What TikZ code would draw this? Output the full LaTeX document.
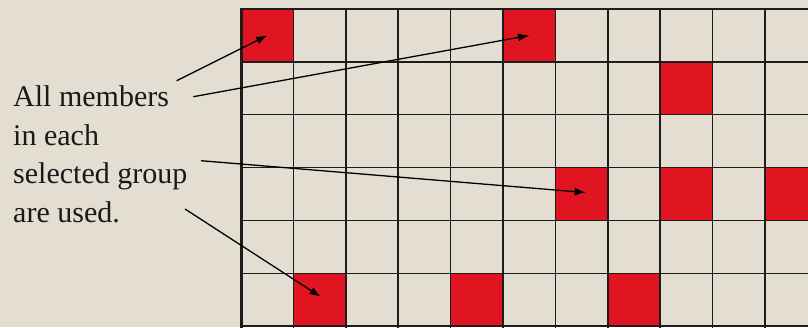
\documentclass[tikz,border=0pt]{standalone}
\usepackage{fontspec}
\setmainfont{Liberation Serif}
\usetikzlibrary{arrows.meta}
\definecolor{bg}{RGB}{228,221,209}
\definecolor{cellred}{RGB}{225,20,34}
\definecolor{gridcol}{RGB}{30,28,26}
\begin{document}
\begin{tikzpicture}[x=1pt,y=-1pt,
  redcell/.style={fill=cellred, draw=none, minimum width=52.4pt, minimum height=52.86pt, inner sep=0pt, outer sep=0pt, anchor=north west},
  gridline/.style={line width=1.5pt, draw=gridcol},
  pointer/.style={line width=1.3pt, draw=black, -{Latex[length=11pt,width=8pt]}},
  caption/.style={align=left, inner sep=0pt, font=\fontsize{30}{38.5}\selectfont, text=black!90}]
\useasboundingbox (0,0) rectangle (808,327);
\clip (0,0) rectangle (808,327);
\fill[bg] (0,0) rectangle (808,327);
% red cells
\foreach \r/\c in {0/0,0/5,1/8,3/6,3/8,3/10,5/1,5/4,5/7}
  \node[redcell] (cell-\r-\c) at ({241+52.4*\c},{9+52.86*\r}) {};
% grid
\foreach \i in {1,...,11}
  \draw[gridline] ({241+52.4*\i},9) -- ({241+52.4*\i},330);
\foreach \j in {1,...,6}
  \draw[gridline] (241,{9+52.86*\j}) -- (812,{9+52.86*\j});
\draw[line width=3pt, draw=gridcol] (241,7.7) -- (241,330);
\draw[line width=2.6pt, draw=gridcol] (239.5,9) -- (812,9);
% caption
\node[caption, anchor=base west] (txt) at (13,222) {All members\\in each\\selected group\\are used.};
\coordinate (p1) at (176.7,80.7);
\coordinate (p2) at (193.3,96.7);
\coordinate (p3) at (201,160.7);
\coordinate (p4) at (185,209);
\draw[pointer] (p1) -- (cell-0-0.center);
\draw[pointer] (p2) -- (cell-0-5.center);
\draw[pointer] (p3) -- ([xshift=4pt,yshift=1.5pt]cell-3-6.center);
\draw[pointer] (p4) -- ([xshift=1pt,yshift=3pt]cell-5-1.center);
\end{tikzpicture}
\end{document}
